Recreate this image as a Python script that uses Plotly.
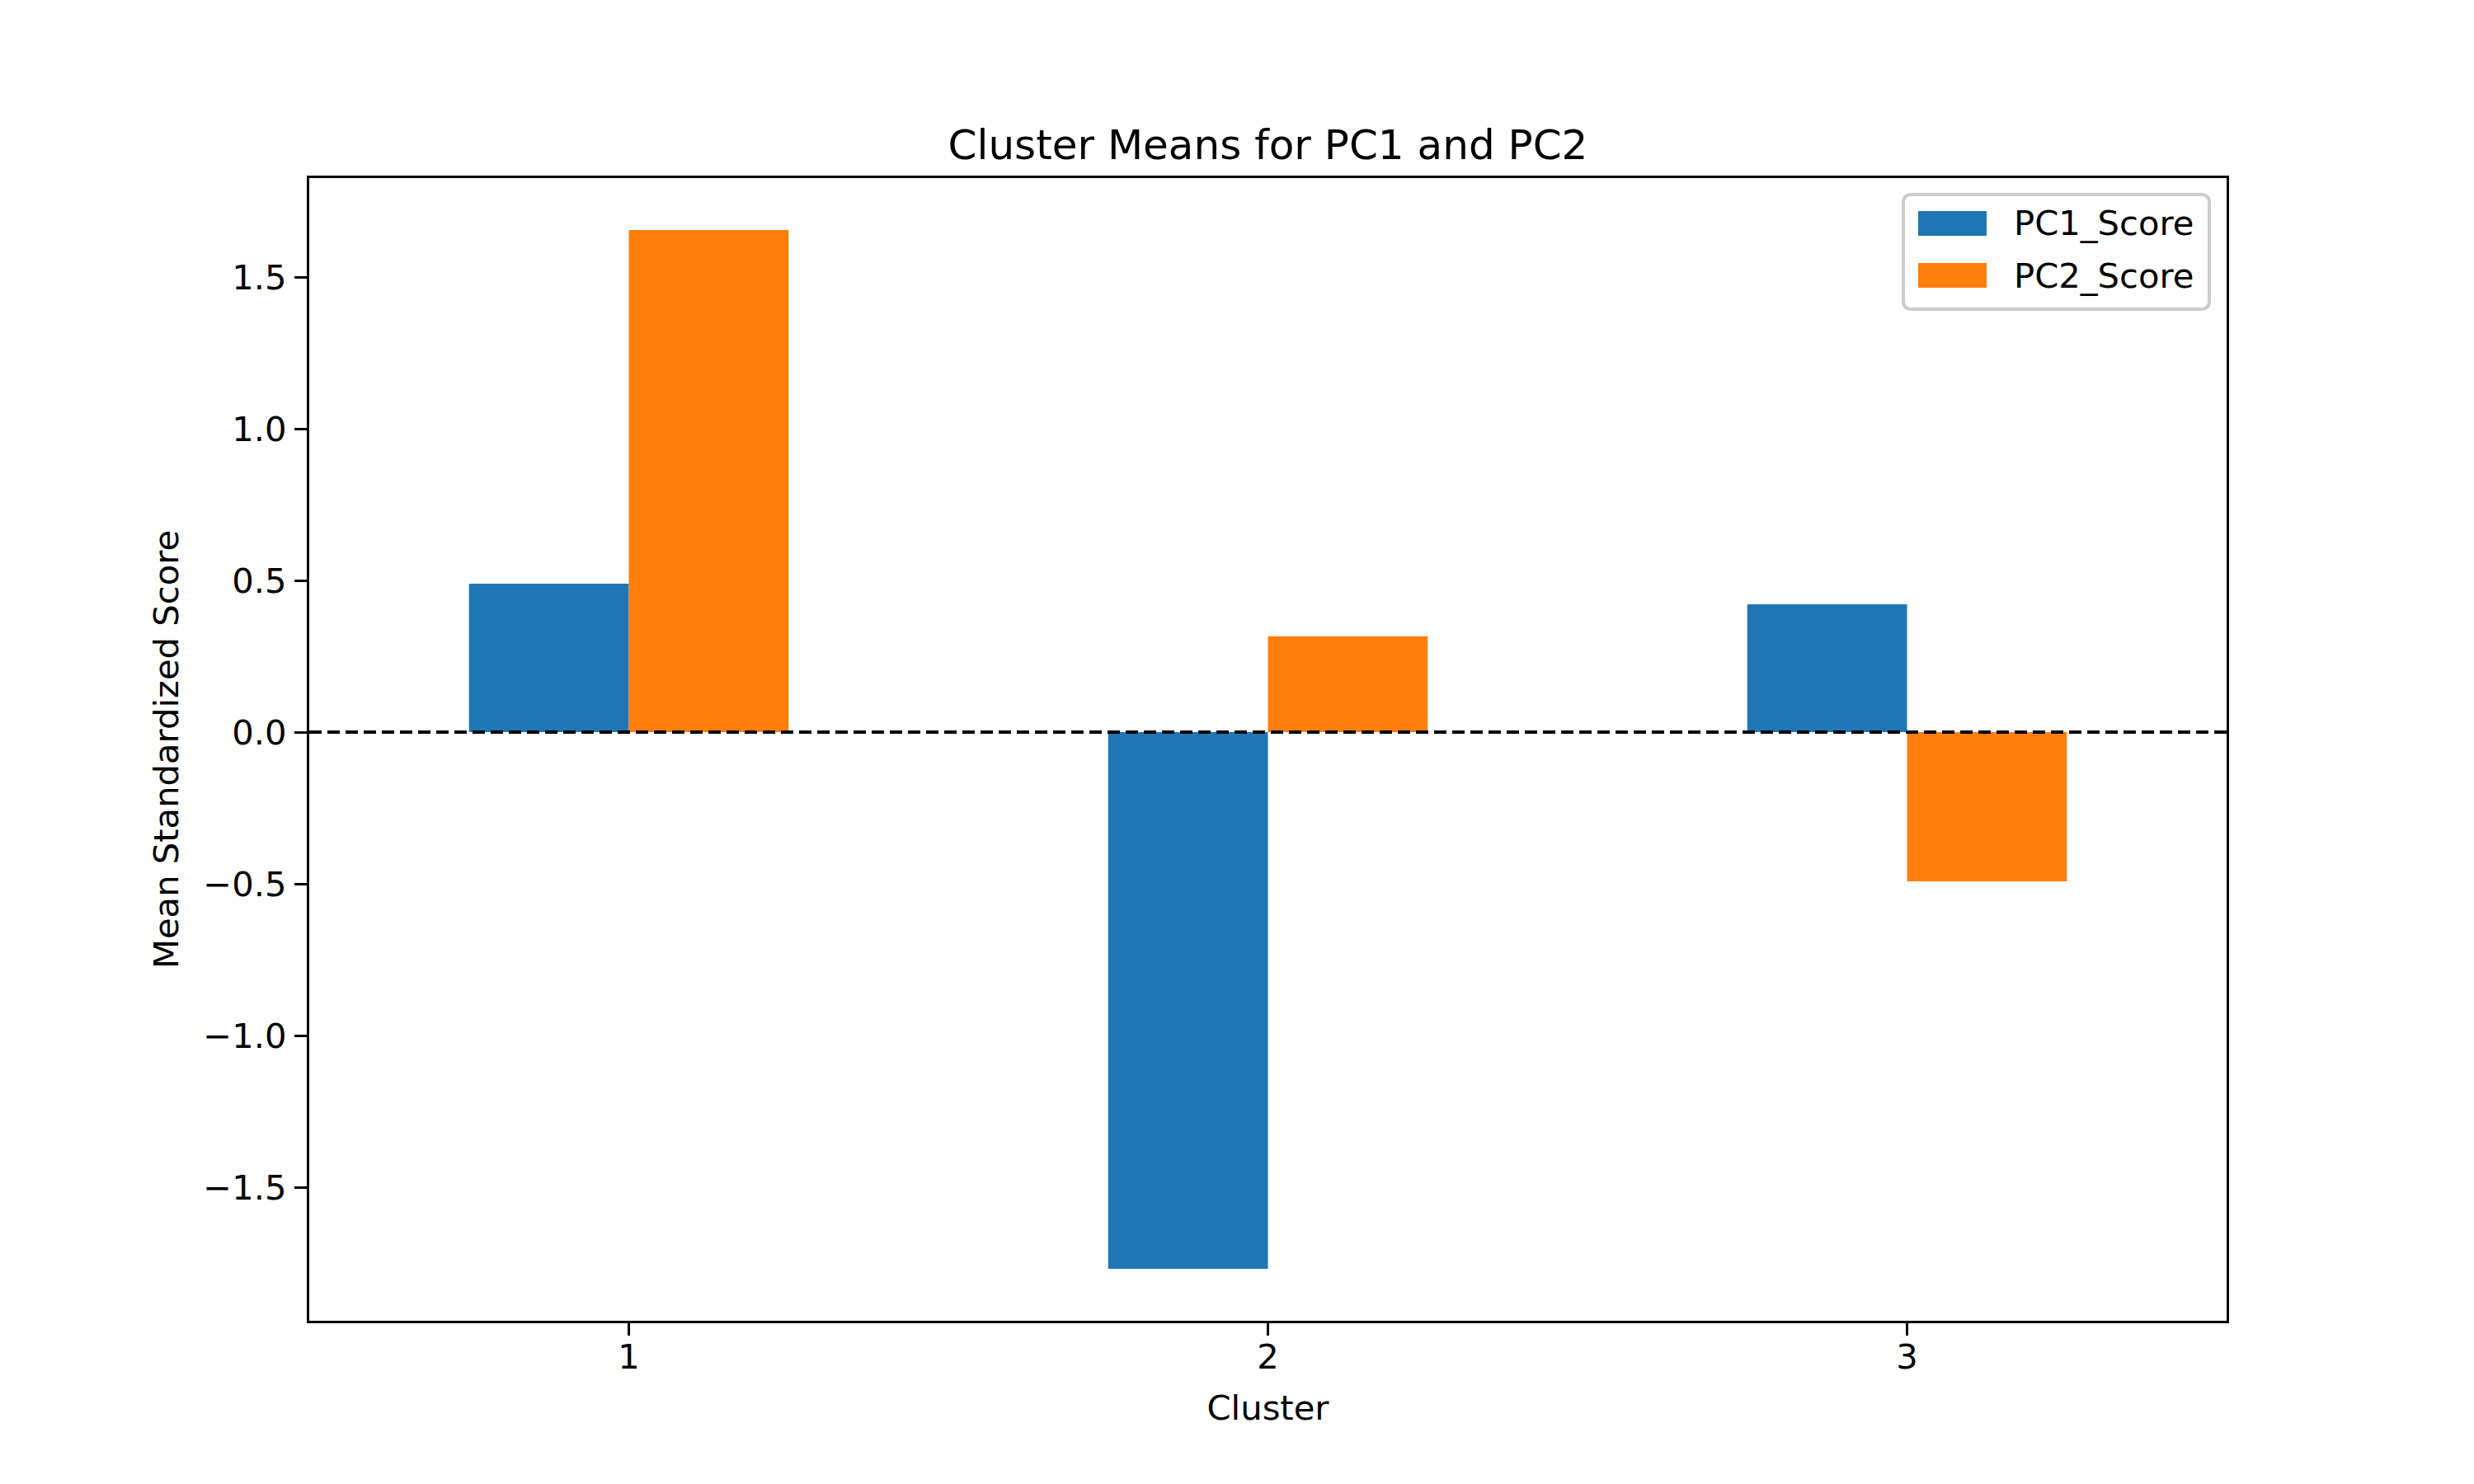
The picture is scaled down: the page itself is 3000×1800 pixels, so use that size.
import plotly.graph_objects as go

# cluster means
clusters = ["1", "2", "3"]
pc1_score = [0.489, -1.769, 0.421]
pc2_score = [1.655, 0.316, -0.492]
series_names = ["PC1_Score", "PC2_Score"]
series_colors = ["#1f77b4", "#ff7f0e"]

W, H = 3000, 1800
OFF = 8  # page body margin the browser adds
L, R, T, B = 375 - OFF, 300 + OFF, 216 - OFF, 198 + OFF
FONT = "DejaVu Sans"
FS = 41.7

# same 5% autoscale padding as the original
lo = min(pc1_score + pc2_score)
hi = max(pc1_score + pc2_score)
pad = 0.05 * (hi - lo)

# page pixel -> paper fraction
def px_x(p):
    return (p - OFF - L) / (W - L - R)

def px_y(p):
    return (H - B - (p - OFF)) / (H - T - B)

fig = go.Figure()
for name, vals, col in zip(series_names, [pc1_score, pc2_score], series_colors):
    fig.add_trace(go.Bar(x=clusters, y=vals, name=name, marker_color=col,
                         marker_line_width=0, showlegend=False))

axis_common = dict(showline=True, linecolor="black", linewidth=3.3, mirror=True,
                   ticks="outside", ticklen=15, tickwidth=3.3, tickcolor="black",
                   showgrid=False, zeroline=False,
                   tickfont=dict(family=FONT, size=FS, color="black"))

fig.update_layout(
    width=W, height=H,
    margin=dict(l=L, r=R, t=T, b=B),
    paper_bgcolor="white", plot_bgcolor="white",
    barmode="group", bargap=0.5, bargroupgap=0,
    font=dict(family=FONT, size=FS, color="black"),
    title=dict(text="Cluster Means for PC1 and PC2", x=(L + (W - L - R) / 2) / W,
               xanchor="center", y=1 - (175 - OFF) / H, yanchor="middle",
               font=dict(family=FONT, size=50, color="black")),
    xaxis=dict(axis_common, type="category", range=[-0.5, 2.5],
               title=dict(text="Cluster", standoff=24,
                          font=dict(family=FONT, size=FS, color="black")),
               ticklabelstandoff=-10),
    yaxis=dict(axis_common, range=[lo - pad, hi + pad], dtick=0.5, tick0=0,
               tickformat=".1f",
               title=dict(text="Mean Standardized Score", standoff=17,
                          font=dict(family=FONT, size=FS, color="black")),
               ticklabelstandoff=1),
)

fig.add_hline(y=0, line=dict(color="black", width=4.2, dash="15px,7px"), layer="above")

# legend drawn by hand so the patches get matplotlib's size
bx0, bx1, by0, by1, rad = 2308, 2679, 236, 375, 10
xs = [px_x(v) for v in (bx0, bx0 + rad, bx1 - rad, bx1)]
ys = [px_y(v) for v in (by0, by0 + rad, by1 - rad, by1)]
box_path = (f"M{xs[1]},{ys[0]} L{xs[2]},{ys[0]} Q{xs[3]},{ys[0]} {xs[3]},{ys[1]} "
            f"L{xs[3]},{ys[2]} Q{xs[3]},{ys[3]} {xs[2]},{ys[3]} "
            f"L{xs[1]},{ys[3]} Q{xs[0]},{ys[3]} {xs[0]},{ys[2]} "
            f"L{xs[0]},{ys[1]} Q{xs[0]},{ys[0]} {xs[1]},{ys[0]} Z")
fig.add_shape(type="path", xref="paper", yref="paper", path=box_path,
              line=dict(color="#cccccc", width=4), fillcolor="rgba(255,255,255,0.8)",
              layer="above")
for i, (name, col) in enumerate(zip(series_names, series_colors)):
    yc = 271 + i * 63
    fig.add_shape(type="rect", xref="paper", yref="paper",
                  x0=px_x(2326), x1=px_x(2409), y0=px_y(yc + 15), y1=px_y(yc - 15),
                  line=dict(width=0), fillcolor=col, layer="above")
    fig.add_annotation(xref="paper", yref="paper", x=px_x(2440), y=px_y(yc),
                       xanchor="left", yanchor="middle", text=name, showarrow=False,
                       font=dict(family=FONT, size=FS, color="black"))

fig.write_html("out.html")
